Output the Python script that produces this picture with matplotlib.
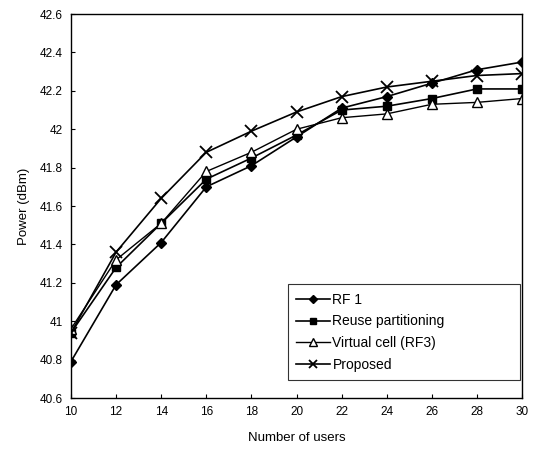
import matplotlib
matplotlib.use("Agg")
import matplotlib.pyplot as plt

plt.rcParams['font.family'] = ['Liberation Sans', 'DejaVu Sans']

users = [10, 12, 14, 16, 18, 20, 22, 24, 26, 28, 30]
rf1 = [40.79, 41.19, 41.41, 41.70, 41.81, 41.96, 42.11, 42.17, 42.24, 42.31, 42.35]
reuse = [40.94, 41.28, 41.51, 41.74, 41.85, 41.97, 42.10, 42.12, 42.16, 42.21, 42.21]
virtual = [40.96, 41.32, 41.51, 41.78, 41.88, 42.00, 42.06, 42.08, 42.13, 42.14, 42.16]
proposed = [40.94, 41.36, 41.64, 41.88, 41.99, 42.09, 42.17, 42.22, 42.25, 42.28, 42.29]
yticks = [40.6, 40.8, 41, 41.2, 41.4, 41.6, 41.8, 42, 42.2, 42.4, 42.6]
ytick_labels = ['40.6', '40.8', '41', '41.2', '41.4', '41.6', '41.8', '42', '42.2', '42.4', '42.6']

fig = plt.figure(figsize=(5.39, 4.54), dpi=100)
ax = fig.add_axes([0.1317, 0.1233, 0.8368, 0.8457])

ax.plot(users, rf1, color='black', lw=1.2, marker='D', ms=5.5, mfc='black', mec='black', label='RF 1')
ax.plot(users, reuse, color='black', lw=1.2, marker='s', ms=6, mfc='black', mec='black', label='Reuse partitioning')
ax.plot(users, virtual, color='black', lw=1.0, marker='^', ms=6.5, mfc='white', mec='black', label='Virtual cell (RF3)')
ax.plot(users, proposed, color='black', lw=1.2, marker='x', ms=8, mew=1.3, label='Proposed')

ax.set_xlim(10, 30)
ax.set_ylim(40.6, 42.6)
ax.set_xticks(users)
ax.set_yticks(yticks)
ax.set_yticklabels(ytick_labels)
ax.tick_params(direction='in', length=3, labelsize=8.5, colors='black', pad=6)
for s in ax.spines.values():
    s.set_linewidth(1.0)
    s.set_color('black')

ax.set_xlabel('Number of users', fontsize=9.5, labelpad=10)
ax.set_ylabel('Power (dBm)', fontsize=9.5, labelpad=7)

leg = ax.legend(loc='lower left', bbox_to_anchor=(0.481, 0.047, 0.514, 0.234), mode='expand',
                fontsize=10, frameon=True, fancybox=False, edgecolor='black',
                handlelength=2.4, borderpad=0.6, borderaxespad=0.0, markerscale=0.8,
                labelspacing=0.55, handletextpad=0.2)
leg.get_frame().set_linewidth(0.8)

fig.savefig('out.png', dpi=100)
